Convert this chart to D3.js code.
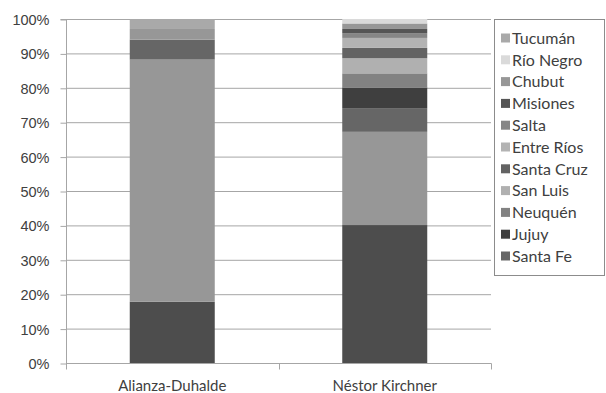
<!DOCTYPE html>
<html>
<head>
<meta charset="utf-8">
<script src="https://cdn.jsdelivr.net/npm/d3@7"></script>
<style>
  html, body { margin: 0; padding: 0; background: #fff; }
  svg { display: block; font-family: "Lato", "Open Sans", sans-serif; }
</style>
</head>
<body>
<svg id="chart" width="606" height="393"></svg>
<script>
// Candidates on the x axis
const categories = ["Alianza-Duhalde", "Néstor Kirchner"];

// Provinces, bottom of the stack first
const provinces = [
  "Buenos Aires", "Córdoba", "Santa Fe", "Jujuy", "Neuquén", "San Luis",
  "Santa Cruz", "Entre Ríos", "Salta", "Misiones", "Chubut", "Río Negro", "Tucumán"
];

// Share (%) of each province within each candidate's column
const alianzaDuhalde = [17.8, 70.4, 5.8, 0, 0, 0, 0, 0, 0, 0, 3.1, 0, 2.9];
const nestorKirchner = [40.1, 27.1, 6.9, 6.0, 4.1, 4.4, 3.0, 2.9, 1.4, 1.2, 1.6, 1.3, 0];

// Fill shade per province
const shades = [
  "#4d4d4d", "#979797", "#666666", "#3f3f3f", "#828282", "#b0b0b0",
  "#636363", "#b3b3b3", "#868686", "#555555", "#979797", "#dadada", "#a9a9a9"
];

const yTicks = [0, 10, 20, 30, 40, 50, 60, 70, 80, 90, 100];

// Provinces that fit in the legend box (top of the stack first)
const legendNames = ["Tucumán", "Río Negro", "Chubut", "Misiones", "Salta", "Entre Ríos",
  "Santa Cruz", "San Luis", "Neuquén", "Jujuy", "Santa Fe"];

const seriesByCategory = [alianzaDuhalde, nestorKirchner];
const rows = categories.map((c, i) => {
  const r = { cat: c };
  provinces.forEach((p, j) => { r[p] = seriesByCategory[i][j]; });
  return r;
});

const svg = d3.select("#chart");
const m = { left: 66, right: 491, top: 19, bottom: 363 };

const x = d3.scaleBand().domain(categories).range([m.left, m.right])
  .paddingInner(0.6).paddingOuter(0.3);
const y = d3.scaleLinear().domain([0, 100]).range([m.bottom, m.top]);
const color = d3.scaleOrdinal().domain(provinces).range(shades);

const textColor = "#404040";
const lineColor = "#a6a6a6";

// Horizontal gridlines
svg.append("g").selectAll("line").data(yTicks.filter(d => d > 0)).join("line")
  .attr("x1", m.left).attr("x2", m.right)
  .attr("y1", d => y(d) + 0.5).attr("y2", d => y(d) + 0.5)
  .attr("stroke", lineColor).attr("stroke-width", 1);

// Stacked columns
const stacked = d3.stack().keys(provinces)(rows);
svg.append("g").selectAll("g").data(stacked).join("g")
  .attr("fill", d => color(d.key))
  .selectAll("rect").data(d => d).join("rect")
  .attr("x", d => x(d.data.cat))
  .attr("width", x.bandwidth())
  .attr("y", d => y(d[1]))
  .attr("height", d => y(d[0]) - y(d[1]));

// Y axis
const yAxis = d3.axisLeft(y).tickValues(yTicks).tickFormat(d => d + "%")
  .tickSize(6).tickPadding(11);
const gy = svg.append("g").attr("transform", `translate(${m.left + 0.5},0.5)`).call(yAxis);
gy.select(".domain").attr("stroke", lineColor).attr("d", `M-6,${m.top}H0V${m.bottom}`);
gy.selectAll(".tick line").attr("stroke", lineColor);
gy.selectAll(".tick text").attr("fill", textColor).style("font-size", "14.5px")
  .attr("dy", "0.35em");

// X axis with boundary ticks between categories
const gx = svg.append("g").attr("transform", `translate(0,${m.bottom + 0.5})`);
gx.append("line").attr("x1", m.left).attr("x2", m.right + 0.5)
  .attr("stroke", lineColor);
const bounds = [m.left, (x(categories[0]) + x.bandwidth() + x(categories[1])) / 2, m.right];
gx.selectAll("line.b").data(bounds).join("line").attr("class", "b")
  .attr("x1", d => Math.round(d) + 0.5).attr("x2", d => Math.round(d) + 0.5)
  .attr("y1", 0).attr("y2", 6).attr("stroke", lineColor);
gx.selectAll("text").data(categories).join("text")
  .attr("x", d => x(d) + x.bandwidth() / 2)
  .attr("y", 27)
  .attr("text-anchor", "middle")
  .attr("fill", textColor).style("font-size", "15px")
  .text(d => d);

// Legend
const lg = svg.append("g");
lg.append("rect").attr("x", 494.5).attr("y", 19.5).attr("width", 110).attr("height", 256)
  .attr("fill", "#fff").attr("stroke", "#8c8c8c");
const item = lg.selectAll("g.item").data(legendNames).join("g").attr("class", "item")
  .attr("transform", (d, i) => `translate(501,${38 + i * 21.8})`);
item.append("rect").attr("x", 0).attr("y", -4.5).attr("width", 9).attr("height", 9)
  .attr("fill", d => color(d));
item.append("text").attr("x", 11).attr("y", 0).attr("dy", "0.36em")
  .attr("fill", textColor).style("font-size", "16px").text(d => d);
</script>
</body>
</html>
